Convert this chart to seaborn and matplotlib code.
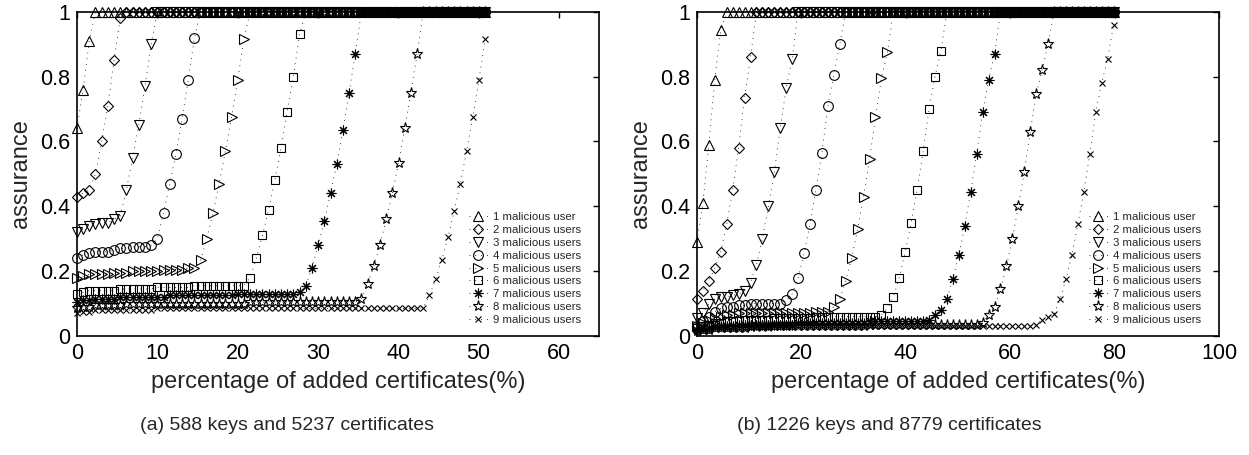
# Assurance vs percentage of added certificates, two key sets side by side
import numpy as np
import pandas as pd
import seaborn as sns
import matplotlib.pyplot as plt

# x grid: certificates are added in equal steps (percent of all certificates)
pct_a = np.round(np.arange(67) * 0.77, 2)    # 588 keys / 5237 certificates
pct_b = np.round(np.arange(71) * 1.14, 2)    # 1226 keys / 8779 certificates

labels = ['1 malicious user', '2 malicious users', '3 malicious users',
          '4 malicious users', '5 malicious users', '6 malicious users',
          '7 malicious users', '8 malicious users', '9 malicious users']

# ---- panel (a) values ----
m1_a = [0.64, 0.76, 0.91] + [1.0] * 64
m2_a = [0.43, 0.44, 0.45, 0.50, 0.60, 0.71, 0.85, 0.98] + [1.0] * 59
m3_a = [0.32, 0.33, 0.34, 0.345, 0.35, 0.35, 0.36, 0.37,
        0.45, 0.55, 0.65, 0.77, 0.90] + [1.0] * 54
m4_a = [0.24, 0.25, 0.255, 0.26, 0.26, 0.26, 0.265, 0.27, 0.27, 0.275,
        0.275, 0.275, 0.28, 0.30,
        0.38, 0.47, 0.56, 0.67, 0.79, 0.92] + [1.0] * 47
m5_a = [0.18, 0.185, 0.19, 0.19, 0.19, 0.19, 0.195, 0.195, 0.195, 0.20,
        0.20, 0.20, 0.20, 0.20, 0.205, 0.205, 0.205, 0.205, 0.21, 0.21,
        0.235, 0.30, 0.38, 0.47, 0.57, 0.675, 0.79, 0.915] + [1.0] * 39
m6_a = [0.13, 0.135, 0.14, 0.14, 0.14, 0.14, 0.14, 0.145, 0.145, 0.145,
        0.145, 0.145, 0.145, 0.15, 0.15, 0.15, 0.15, 0.15, 0.15, 0.155,
        0.155, 0.155, 0.155, 0.155, 0.155, 0.155, 0.155, 0.155,
        0.18, 0.24, 0.31, 0.39, 0.48, 0.58, 0.69, 0.80, 0.93] + [1.0] * 30
m7_a = [0.105, 0.11, 0.11, 0.115, 0.115, 0.115, 0.115, 0.12, 0.12, 0.12,
        0.12, 0.12, 0.12, 0.12, 0.12, 0.125, 0.125, 0.125, 0.125, 0.125,
        0.125, 0.125, 0.125, 0.125, 0.125, 0.125, 0.13, 0.13, 0.13, 0.13,
        0.13, 0.13, 0.13, 0.13, 0.13, 0.13, 0.135,
        0.155, 0.21, 0.28, 0.355, 0.44, 0.53, 0.635, 0.75, 0.87] + [1.0] * 21
m8_a = [0.085, 0.09, 0.09, 0.095, 0.095, 0.095, 0.095, 0.095, 0.10, 0.10,
        0.10, 0.10, 0.10, 0.10, 0.10, 0.10, 0.10, 0.10, 0.10, 0.10,
        0.10, 0.10, 0.10, 0.10, 0.10, 0.10, 0.10, 0.10, 0.105, 0.105,
        0.105, 0.105, 0.105, 0.105, 0.105, 0.105, 0.105, 0.105, 0.105, 0.105,
        0.105, 0.105, 0.105, 0.105, 0.105, 0.105,
        0.115, 0.16, 0.215, 0.28, 0.36, 0.44, 0.535, 0.64, 0.75, 0.87] + [1.0] * 11
m9_a = [0.07, 0.075, 0.075, 0.08, 0.08, 0.08, 0.08, 0.08, 0.08, 0.08,
        0.08, 0.08, 0.08, 0.085, 0.085, 0.085, 0.085, 0.085, 0.085, 0.085,
        0.085, 0.085, 0.085, 0.085, 0.085, 0.085, 0.085, 0.085, 0.085, 0.085,
        0.085, 0.085, 0.085, 0.085, 0.085, 0.085, 0.085, 0.085, 0.085, 0.085,
        0.085, 0.085, 0.085, 0.085, 0.085, 0.085, 0.085, 0.085, 0.085, 0.085,
        0.085, 0.085, 0.085, 0.085, 0.085, 0.085, 0.087,
        0.125, 0.175, 0.235, 0.305, 0.385, 0.47, 0.57, 0.675, 0.79, 0.915]

# ---- panel (b) values ----
m1_b = [0.29, 0.41, 0.59, 0.79, 0.945] + [1.0] * 66
m2_b = [0.115, 0.14, 0.17, 0.21, 0.26, 0.345, 0.45, 0.58, 0.735, 0.86] + [1.0] * 61
m3_b = [0.055, 0.07, 0.10, 0.115, 0.12, 0.12, 0.125, 0.13, 0.14, 0.165,
        0.22, 0.30, 0.40, 0.505, 0.64, 0.765, 0.855] + [1.0] * 54
m4_b = [0.03, 0.045, 0.06, 0.075, 0.085, 0.09, 0.09, 0.095, 0.095, 0.10,
        0.10, 0.10, 0.10, 0.10, 0.10,
        0.11, 0.13, 0.18, 0.255, 0.345, 0.45, 0.565, 0.71, 0.805, 0.90] + [1.0] * 46
m5_b = [0.03, 0.04, 0.05, 0.055, 0.06, 0.065, 0.065, 0.07, 0.07, 0.07,
        0.07, 0.07, 0.07, 0.07, 0.07, 0.07, 0.072, 0.072, 0.072, 0.072,
        0.075, 0.075, 0.075,
        0.09, 0.115, 0.17, 0.24, 0.33, 0.43, 0.545, 0.675, 0.795, 0.875] + [1.0] * 38
m6_b = [0.025, 0.03, 0.035, 0.04, 0.04, 0.045, 0.045, 0.045, 0.05, 0.05,
        0.05, 0.05, 0.05, 0.055, 0.055, 0.055, 0.055, 0.055, 0.055, 0.055,
        0.06, 0.06, 0.06, 0.06, 0.06, 0.06, 0.06, 0.06, 0.06, 0.06, 0.06,
        0.065, 0.085, 0.12, 0.18, 0.26, 0.35, 0.45, 0.57, 0.70, 0.80, 0.88] + [1.0] * 29
m7_b = [0.02, 0.025, 0.025, 0.03, 0.03, 0.03, 0.03, 0.035, 0.035, 0.035,
        0.035, 0.035, 0.035, 0.035, 0.035, 0.035, 0.035, 0.04, 0.04, 0.04,
        0.04, 0.04, 0.04, 0.04, 0.04, 0.04, 0.04, 0.04, 0.04, 0.045, 0.045,
        0.045, 0.045, 0.045, 0.045, 0.045, 0.045, 0.045, 0.045,
        0.05, 0.065, 0.08, 0.115, 0.175, 0.25, 0.34, 0.445, 0.56, 0.69,
        0.79, 0.87] + [1.0] * 20
m8_b = [0.015, 0.02, 0.02, 0.025, 0.025, 0.025, 0.025, 0.025, 0.025, 0.03,
        0.03, 0.03, 0.03, 0.03, 0.03, 0.03, 0.03, 0.03, 0.03, 0.03,
        0.03, 0.03, 0.03, 0.03, 0.03, 0.03, 0.03, 0.03, 0.03, 0.035,
        0.035, 0.035, 0.035, 0.035, 0.035, 0.035, 0.035, 0.035, 0.035, 0.035,
        0.035, 0.035, 0.035, 0.035, 0.035, 0.035, 0.035, 0.035, 0.04,
        0.065, 0.09, 0.145, 0.215, 0.30, 0.40, 0.505, 0.63, 0.745, 0.82,
        0.90] + [1.0] * 11
m9_b = [0.015, 0.02, 0.02, 0.025, 0.025, 0.025, 0.025, 0.025, 0.025, 0.025,
        0.025, 0.025, 0.025, 0.03, 0.03, 0.03, 0.03, 0.03, 0.03, 0.03,
        0.03, 0.03, 0.03, 0.03, 0.03, 0.03, 0.03, 0.03, 0.03, 0.03,
        0.03, 0.03, 0.03, 0.03, 0.03, 0.03, 0.03, 0.03, 0.032, 0.032,
        0.032, 0.032, 0.032, 0.032, 0.032, 0.032, 0.032, 0.032, 0.032, 0.032,
        0.032, 0.032, 0.032, 0.032, 0.032, 0.032, 0.032, 0.035,
        0.05, 0.06, 0.067, 0.113, 0.175, 0.25, 0.345, 0.445, 0.56, 0.69,
        0.78, 0.855, 0.96]

series_a = [m1_a, m2_a, m3_a, m4_a, m5_a, m6_a, m7_a, m8_a, m9_a]
series_b = [m1_b, m2_b, m3_b, m4_b, m5_b, m6_b, m7_b, m8_b, m9_b]

# MATLAB-ish marker set: triangle, diamond, down triangle, circle, right
# triangle, square, asterisk, pentagram, cross
markers = ['^', 'D', 'v', 'o', '>', 's', (8, 2, 0), '*', 'x']
msizes = [7, 5.5, 7, 7, 7, 6, 7, 8, 5]

sns.set_theme(style='white')
plt.rcParams['font.family'] = ['Liberation Sans', 'DejaVu Sans']


def draw(ax, pct, series, xmax, xticks):
    for vals, lab, mk, ms in zip(series, labels, markers, msizes):
        df = pd.DataFrame({'pct': pct, 'assurance': vals})
        sns.lineplot(data=df, x='pct', y='assurance', ax=ax, color='black',
                     linestyle=(0, (1, 6)), linewidth=0.6, marker=mk,
                     markersize=ms, markerfacecolor='none',
                     markeredgecolor='black', markeredgewidth=0.8,
                     label=lab, estimator=None, sort=False, clip_on=False)
    ax.set_xlim(0, xmax)
    ax.set_ylim(0, 1)
    ax.set_xticks(xticks)
    ax.set_yticks([0, 0.2, 0.4, 0.6, 0.8, 1])
    ax.set_yticklabels(['0', '0.2', '0.4', '0.6', '0.8', '1'])
    ax.set_xlabel('percentage of added certificates(%)', fontsize=17, labelpad=5)
    ax.set_ylabel('assurance', fontsize=17, labelpad=6)
    ax.tick_params(direction='in', top=True, right=True, length=4, width=1,
                   labelsize=15.5, pad=5, colors='black')
    for sp in ax.spines.values():
        sp.set_visible(True)
        sp.set_color('black')
        sp.set_linewidth(1.2)
        sp.set_zorder(0.5)
    ax.legend(loc='lower right', bbox_to_anchor=(0.975, 0.02), frameon=False,
              fontsize=8.2, handlelength=1.6, handletextpad=0.5,
              labelspacing=0.25, borderaxespad=0)


fig = plt.figure(figsize=(12.49, 4.55), dpi=100)
ax_a = fig.add_axes([0.0616, 0.2615, 0.418, 0.7128])
ax_b = fig.add_axes([0.558, 0.2615, 0.418, 0.7128])

draw(ax_a, pct_a, series_a, 65, [0, 10, 20, 30, 40, 50, 60])
draw(ax_b, pct_b, series_b, 100, [0, 20, 40, 60, 80, 100])

fig.text(287 / 1249, 1 - 425 / 455, '(a) 588 keys and 5237 certificates',
         ha='center', va='center', fontsize=14)
fig.text(889 / 1249, 1 - 425 / 455, '(b) 1226 keys and 8779 certificates',
         ha='center', va='center', fontsize=14)

fig.savefig('out.png', dpi=100)
